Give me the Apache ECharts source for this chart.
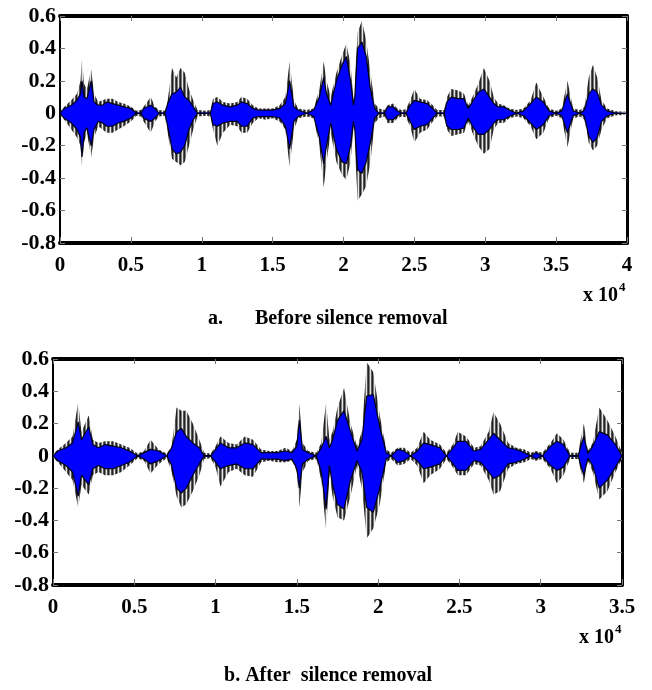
<!DOCTYPE html>
<html>
<head>
<meta charset="utf-8">
<script src="https://cdn.jsdelivr.net/npm/echarts@6/dist/echarts.min.js"></script>
<style>
  html, body { margin: 0; padding: 0; background: #fff; }
  #main { width: 652px; height: 690px; }
</style>
</head>
<body>
<div id="main"></div>
<script>
// a. before silence removal (sample index, envelope)
var beforeX = [
  0, 300, 800, 1200, 1450, 1550, 1700, 1900, 2200, 2400,
  2700, 3000, 3300, 3700, 4100, 4500, 5000, 5400, 5700, 5900,
  6400, 6700, 7000, 7400, 7600, 7900, 8200, 8500, 8800, 9100,
  9400, 9700, 10300, 10600, 10800, 11100, 11500, 12000, 12500, 12800,
  13200, 13600, 14000, 14500, 15000, 15500, 15900, 16200, 16500, 16800,
  17400, 17900, 18300, 18600, 18800, 19100, 19500, 19900, 20200, 20500,
  20700, 20800, 21000, 21300, 21600, 21900, 22200, 22500, 22900, 23100,
  23500, 23800, 24100, 24400, 24700, 25000, 25400, 25900, 26300, 26600,
  27100, 27300, 27600, 28100, 28500, 28800, 29100, 29500, 29900, 30300,
  30600, 30900, 31300, 31700, 32200, 32700, 33200, 33600, 34100, 34500,
  35000, 35400, 35800, 36200, 36700, 37000, 37300, 37600, 37900, 38200,
  38600, 39200, 40000
];
var beforePeakHi = [
  0.01, 0.04, 0.08, 0.12, 0.20, 0.33, 0.18, 0.15, 0.27, 0.12,
  0.07, 0.08, 0.09, 0.09, 0.07, 0.06, 0.04, 0.015, 0.02, 0.04,
  0.10, 0.04, 0.02, 0.015, 0.08, 0.28, 0.22, 0.28, 0.25, 0.15,
  0.08, 0.02, 0.015, 0.02, 0.09, 0.10, 0.07, 0.06, 0.07, 0.10,
  0.09, 0.05, 0.03, 0.03, 0.03, 0.05, 0.10, 0.32, 0.08, 0.03,
  0.02, 0.03, 0.15, 0.32, 0.20, 0.10, 0.25, 0.36, 0.43, 0.30,
  0.08, 0.20, 0.50, 0.57, 0.45, 0.25, 0.06, 0.03, 0.02, 0.05,
  0.06, 0.03, 0.02, 0.025, 0.08, 0.15, 0.09, 0.08, 0.05, 0.02,
  0.02, 0.10, 0.15, 0.14, 0.12, 0.05, 0.10, 0.18, 0.28, 0.20,
  0.10, 0.06, 0.05, 0.03, 0.02, 0.03, 0.08, 0.19, 0.10, 0.03,
  0.015, 0.03, 0.20, 0.03, 0.02, 0.04, 0.22, 0.30, 0.22, 0.08,
  0.03, 0.012, 0.01
];
var beforePeakLo = [
  -0.01, -0.04, -0.10, -0.15, -0.20, -0.33, -0.18, -0.12, -0.27, -0.15,
  -0.08, -0.10, -0.12, -0.12, -0.10, -0.08, -0.05, -0.015, -0.02, -0.05,
  -0.12, -0.05, -0.02, -0.015, -0.12, -0.28, -0.30, -0.32, -0.30, -0.20,
  -0.10, -0.02, -0.015, -0.02, -0.10, -0.20, -0.12, -0.07, -0.08, -0.12,
  -0.12, -0.06, -0.03, -0.04, -0.03, -0.05, -0.10, -0.33, -0.10, -0.03,
  -0.02, -0.03, -0.20, -0.46, -0.30, -0.12, -0.30, -0.38, -0.41, -0.30,
  -0.08, -0.20, -0.54, -0.50, -0.45, -0.30, -0.06, -0.03, -0.02, -0.06,
  -0.06, -0.03, -0.02, -0.025, -0.08, -0.18, -0.12, -0.10, -0.05, -0.02,
  -0.02, -0.10, -0.14, -0.13, -0.12, -0.05, -0.12, -0.20, -0.25, -0.22,
  -0.10, -0.06, -0.06, -0.03, -0.02, -0.03, -0.08, -0.16, -0.12, -0.03,
  -0.015, -0.03, -0.21, -0.03, -0.02, -0.04, -0.18, -0.23, -0.20, -0.10,
  -0.03, -0.012, -0.01
];
var beforeCoreHi = [
  0, 0.03, 0.05, 0.08, 0.12, 0.20, 0.10, 0.09, 0.20, 0.07,
  0.05, 0.05, 0.07, 0.06, 0.05, 0.04, 0.03, 0, 0, 0.03,
  0.05, 0.03, 0, 0, 0.06, 0.12, 0.13, 0.16, 0.10, 0.08,
  0.04, 0, 0, 0, 0.06, 0.07, 0.05, 0.04, 0.05, 0.07,
  0.06, 0.03, 0.02, 0.02, 0.02, 0.03, 0.06, 0.20, 0.04, 0.02,
  0, 0.02, 0.10, 0.22, 0.12, 0.05, 0.20, 0.30, 0.35, 0.20,
  0.05, 0.10, 0.40, 0.44, 0.35, 0.15, 0.03, 0, 0, 0.04,
  0.04, 0.015, 0, 0, 0.05, 0.08, 0.07, 0.06, 0.03, 0,
  0, 0.07, 0.10, 0.09, 0.09, 0.03, 0.07, 0.13, 0.15, 0.10,
  0.06, 0.04, 0.04, 0.02, 0, 0.015, 0.06, 0.10, 0.07, 0.015,
  0, 0.015, 0.12, 0.015, 0, 0.02, 0.12, 0.15, 0.13, 0.05,
  0.015, 0, 0
];
var beforeCoreLo = [
  0, -0.03, -0.06, -0.10, -0.15, -0.27, -0.12, -0.09, -0.20, -0.10,
  -0.05, -0.06, -0.08, -0.08, -0.06, -0.05, -0.03, 0, 0, -0.03,
  -0.05, -0.03, 0, 0, -0.08, -0.22, -0.25, -0.24, -0.20, -0.10,
  -0.04, 0, 0, 0, -0.07, -0.08, -0.06, -0.05, -0.05, -0.08,
  -0.08, -0.03, -0.02, -0.02, -0.02, -0.03, -0.08, -0.22, -0.05, -0.02,
  0, -0.02, -0.15, -0.31, -0.20, -0.06, -0.22, -0.30, -0.31, -0.20,
  -0.05, -0.10, -0.35, -0.37, -0.30, -0.18, -0.03, 0, 0, -0.04,
  -0.04, -0.015, 0, 0, -0.05, -0.10, -0.08, -0.07, -0.03, 0,
  0, -0.08, -0.10, -0.10, -0.09, -0.03, -0.08, -0.13, -0.13, -0.10,
  -0.06, -0.04, -0.04, -0.02, 0, -0.015, -0.06, -0.10, -0.07, -0.015,
  0, -0.015, -0.12, -0.015, 0, -0.02, -0.14, -0.18, -0.15, -0.05,
  -0.015, 0, 0
];

// b. after silence removal
var afterX = [
  0, 300, 800, 1200, 1550, 1750, 2200, 2450, 2800, 3200,
  3700, 4200, 4700, 5200, 5600, 6000, 6500, 7000, 7300, 7600,
  7900, 8200, 8600, 9000, 9300, 9700, 10000, 10300, 10800, 11300,
  11800, 12300, 12800, 13300, 13800, 14300, 14700, 15000, 15150, 15350,
  15700, 16200, 16500, 16800, 17000, 17200, 17500, 17900, 18300, 18700,
  19000, 19300, 19700, 20100, 20500, 20800, 21200, 21600, 22000, 22400,
  22800, 23200, 23800, 24200, 24600, 24900, 25400, 25900, 26300, 26800,
  27100, 27500, 28000, 28500, 29000, 29400, 29700, 30100, 30600, 31000,
  31400, 31800, 32300, 32650, 32900, 33200, 33600, 34100, 34600, 35000
];
var afterPeakHi = [
  0.01, 0.04, 0.08, 0.12, 0.33, 0.15, 0.25, 0.10, 0.08, 0.09,
  0.09, 0.07, 0.05, 0.015, 0.03, 0.10, 0.04, 0.015, 0.06, 0.30,
  0.28, 0.28, 0.20, 0.10, 0.02, 0.015, 0.06, 0.12, 0.08, 0.07,
  0.12, 0.10, 0.04, 0.03, 0.03, 0.05, 0.03, 0.10, 0.32, 0.08,
  0.03, 0.02, 0.08, 0.33, 0.10, 0.15, 0.30, 0.42, 0.20, 0.06,
  0.15, 0.58, 0.52, 0.25, 0.04, 0.02, 0.05, 0.05, 0.02, 0.05,
  0.15, 0.10, 0.07, 0.02, 0.07, 0.15, 0.12, 0.05, 0.06, 0.15,
  0.27, 0.20, 0.08, 0.05, 0.04, 0.02, 0.03, 0.02, 0.08, 0.14,
  0.10, 0.02, 0.02, 0.20, 0.03, 0.08, 0.30, 0.22, 0.12, 0.02
];
var afterPeakLo = [
  -0.01, -0.04, -0.10, -0.15, -0.32, -0.18, -0.24, -0.12, -0.10, -0.12,
  -0.12, -0.10, -0.06, -0.015, -0.03, -0.11, -0.05, -0.015, -0.10, -0.25,
  -0.32, -0.30, -0.22, -0.12, -0.02, -0.015, -0.07, -0.19, -0.10, -0.08,
  -0.12, -0.13, -0.04, -0.03, -0.04, -0.04, -0.03, -0.10, -0.32, -0.10,
  -0.03, -0.02, -0.15, -0.46, -0.12, -0.25, -0.38, -0.40, -0.25, -0.06,
  -0.20, -0.51, -0.45, -0.30, -0.04, -0.02, -0.06, -0.05, -0.02, -0.06,
  -0.17, -0.12, -0.08, -0.02, -0.07, -0.12, -0.12, -0.05, -0.06, -0.15,
  -0.24, -0.22, -0.08, -0.05, -0.04, -0.02, -0.03, -0.02, -0.08, -0.17,
  -0.12, -0.02, -0.02, -0.17, -0.03, -0.10, -0.27, -0.22, -0.10, -0.02
];
var afterCoreHi = [
  0, 0.03, 0.05, 0.08, 0.21, 0.10, 0.18, 0.07, 0.05, 0.07,
  0.06, 0.05, 0.03, 0, 0.02, 0.04, 0.03, 0, 0.05, 0.15,
  0.17, 0.12, 0.08, 0.05, 0, 0, 0.04, 0.08, 0.05, 0.05,
  0.08, 0.07, 0.02, 0.02, 0.02, 0.03, 0.02, 0.06, 0.22, 0.04,
  0.02, 0, 0.05, 0.12, 0.05, 0.10, 0.22, 0.28, 0.15, 0.03,
  0.10, 0.37, 0.38, 0.18, 0.02, 0, 0.04, 0.03, 0, 0.03,
  0.08, 0.07, 0.05, 0, 0.05, 0.09, 0.09, 0.03, 0.04, 0.10,
  0.14, 0.10, 0.05, 0.04, 0.02, 0, 0.02, 0, 0.06, 0.09,
  0.07, 0, 0, 0.12, 0.015, 0.06, 0.15, 0.13, 0.07, 0
];
var afterCoreLo = [
  0, -0.03, -0.06, -0.10, -0.25, -0.12, -0.18, -0.08, -0.06, -0.08,
  -0.08, -0.06, -0.04, 0, -0.02, -0.05, -0.03, 0, -0.06, -0.20,
  -0.23, -0.20, -0.12, -0.05, 0, 0, -0.04, -0.08, -0.06, -0.05,
  -0.08, -0.08, -0.02, -0.02, -0.02, -0.03, -0.02, -0.08, -0.20, -0.05,
  -0.02, 0, -0.10, -0.33, -0.06, -0.18, -0.30, -0.33, -0.15, -0.03,
  -0.10, -0.32, -0.35, -0.20, -0.02, 0, -0.04, -0.03, 0, -0.03,
  -0.08, -0.07, -0.05, 0, -0.05, -0.09, -0.09, -0.03, -0.04, -0.10,
  -0.14, -0.12, -0.05, -0.04, -0.02, 0, -0.02, 0, -0.06, -0.09,
  -0.07, 0, 0, -0.12, -0.015, -0.06, -0.20, -0.15, -0.07, 0
];

var yTicks = { min: -0.8, max: 0.6, interval: 0.2 };
var FONT = '"Liberation Serif", "Times New Roman", serif';

// vertical hairline texture for the spiky outer part of the signal
var hair = document.createElement('canvas');
hair.width = 4;
hair.height = 2;
var hctx = hair.getContext('2d');
var hairCols = ['#222', '#7a7a7a', '#e6e6e6', '#555'];
hairCols.forEach(function (c, i) {
  hctx.fillStyle = c;
  hctx.fillRect(i, 0, 1, 2);
});

function pairs(xs, ys) {
  return ys.map(function (v, i) { return [xs[i], v]; });
}

function spikes(xs, ys, axis) {
  return {
    type: 'line',
    xAxisIndex: axis,
    yAxisIndex: axis,
    data: pairs(xs, ys),
    symbol: 'none',
    silent: true,
    z: 2,
    lineStyle: { width: 0, opacity: 0 },
    areaStyle: { color: { image: hair, repeat: 'repeat' }, opacity: 1 }
  };
}

// blue body; each half overlaps the zero line slightly so no seam shows
function body(xs, ys, axis, overlap) {
  return {
    type: 'line',
    xAxisIndex: axis,
    yAxisIndex: axis,
    data: pairs(xs, ys),
    symbol: 'none',
    silent: true,
    z: 3,
    lineStyle: { color: '#00001a', width: 1.2 },
    areaStyle: { color: '#0000ff', opacity: 1, origin: overlap }
  };
}

function xAxisOf(grid, max, pos) {
  var bottom = pos === 'bottom';
  return {
    type: 'value',
    gridIndex: grid,
    position: pos,
    min: 0,
    max: max,
    interval: 5000,
    axisLine: { onZero: false, lineStyle: { color: '#000', width: 4 } },
    axisTick: { show: true, inside: true, length: bottom ? 6 : 5, lineStyle: { color: '#777', width: 1 } },
    splitLine: { show: false },
    axisLabel: {
      show: bottom,
      margin: 12,
      color: '#000',
      fontFamily: FONT,
      fontWeight: 'bold',
      fontSize: 21,
      formatter: function (v) { return String(Math.round(v / 1000) / 10); }
    }
  };
}

function yAxisOf(grid, pos) {
  var left = pos === 'left';
  return {
    type: 'value',
    gridIndex: grid,
    position: pos,
    min: yTicks.min,
    max: yTicks.max,
    interval: yTicks.interval,
    axisLine: { onZero: false, lineStyle: { color: '#000', width: left ? 2 : 3 } },
    axisTick: { show: true, inside: true, length: 5, lineStyle: { color: '#777', width: 1 } },
    splitLine: { show: false },
    axisLabel: {
      show: left,
      margin: 4,
      color: '#000',
      fontFamily: FONT,
      fontWeight: 'bold',
      fontSize: 22,
      formatter: function (v) {
        var r = Math.round(v * 10) / 10;
        return r === 0 ? '0' : String(r);
      }
    }
  };
}

function label(text, x, y, size, align) {
  return {
    type: 'text',
    x: x,
    y: y,
    silent: true,
    style: {
      text: text,
      fill: '#000',
      font: 'bold ' + size + 'px ' + FONT,
      textAlign: align || 'left',
      textVerticalAlign: 'middle'
    }
  };
}

var chart = echarts.init(document.getElementById('main'), null, { renderer: 'canvas' });

var option = {
  backgroundColor: '#fff',
  animation: false,
  grid: [
    { left: 60, top: 16, width: 567, height: 227 },
    { left: 53, top: 359, width: 569, height: 226 }
  ],
  xAxis: [
    xAxisOf(0, 40000, 'bottom'),
    xAxisOf(0, 40000, 'top'),
    xAxisOf(1, 35000, 'bottom'),
    xAxisOf(1, 35000, 'top')
  ],
  yAxis: [
    yAxisOf(0, 'left'),
    yAxisOf(0, 'right'),
    yAxisOf(1, 'left'),
    yAxisOf(1, 'right')
  ],
  series: [
    spikes(beforeX, beforePeakHi, 0),
    spikes(beforeX, beforePeakLo, 0),
    body(beforeX, beforeCoreHi, 0, -0.005),
    body(beforeX, beforeCoreLo, 0, 0.005),
    spikes(afterX, afterPeakHi, 2),
    spikes(afterX, afterPeakLo, 2),
    body(afterX, afterCoreHi, 2, -0.005),
    body(afterX, afterCoreLo, 2, 0.005)
  ],
  graphic: [
    label('x 10', 618, 296, 20, 'right'),
    label('4', 619, 288, 13),
    label('a.', 208, 319, 20),
    label('Before silence removal', 255, 319, 20),
    label('x 10', 614, 638, 20, 'right'),
    label('4', 615, 630, 13),
    label('b. After  silence removal', 328, 676, 20, 'center')
  ]
};
chart.setOption(option);
</script>
</body>
</html>
